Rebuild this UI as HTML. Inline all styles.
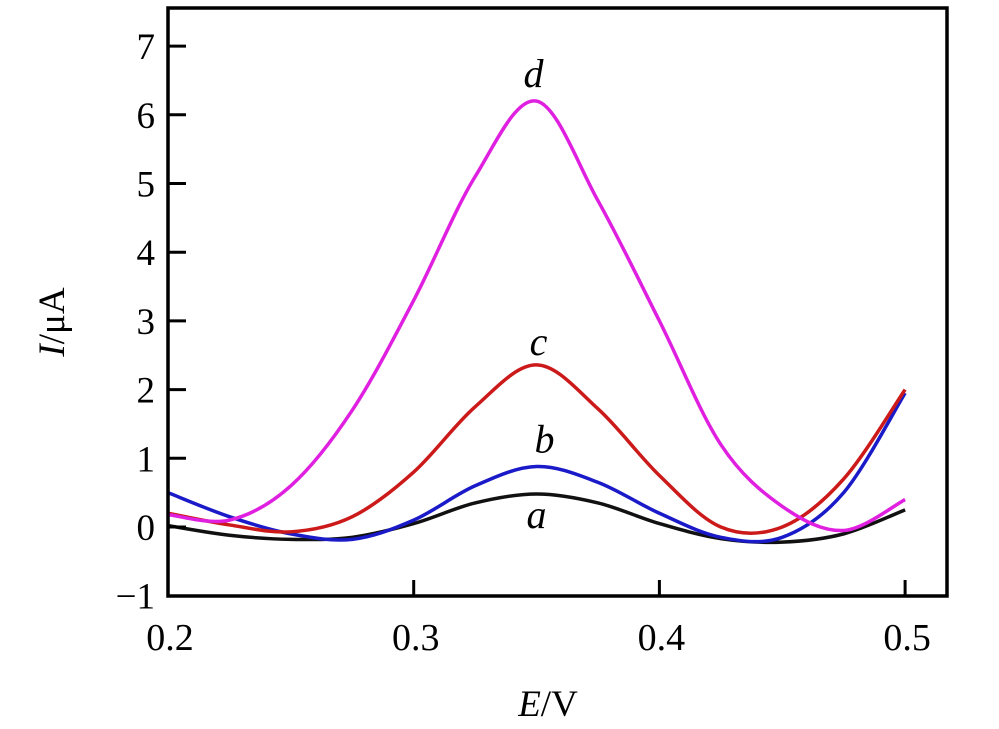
<!DOCTYPE html>
<html><head><meta charset="utf-8"><style>
html,body{margin:0;padding:0;background:#fff;}
svg text{font-family:"Liberation Serif",serif;fill:#000;}
</style></head><body>
<svg width="999" height="724" viewBox="0 0 999 724">
<g id="marks"></g>
<rect x="168" y="8" width="779" height="588" fill="none" stroke="#000" stroke-width="3.5"/>
<g id="axes"></g>
<text x="64" y="322" font-size="37" text-anchor="middle" transform="rotate(-90 64 322)"><tspan font-style="italic">I</tspan>/μA</text>
<text x="548" y="716" font-size="37" text-anchor="middle"><tspan font-style="italic">E</tspan>/V</text>
</svg>
<script>
const xVals=[0.2,0.225,0.25,0.275,0.3,0.325,0.35,0.375,0.4,0.425,0.45,0.475,0.5];
const seriesA=[0.02,-0.12,-0.18,-0.15,0.05,0.35,0.48,0.35,0.05,-0.17,-0.22,-0.1,0.25];
const seriesB=[0.5,0.15,-0.1,-0.18,0.1,0.6,0.88,0.65,0.2,-0.15,-0.15,0.5,1.95];
const seriesC=[0.2,0.03,-0.07,0.15,0.8,1.75,2.36,1.72,0.75,0.0,0.0,0.7,2.0];
const seriesD=[0.18,0.1,0.6,1.7,3.3,5.1,6.2,4.75,3.0,1.2,0.3,-0.05,0.4];
const yTicks=[-1,0,1,2,3,4,5,6,7];
const xTicks=[0.2,0.3,0.4,0.5];
const xTickLabels=["0.2","0.3","0.4","0.5"];
const sx=v=>168+(v-0.2)*2457;
const sy=v=>527-v*68.7;
const NS="http://www.w3.org/2000/svg";
const marks=document.getElementById('marks'),axes=document.getElementById('axes');
function path(ys){
  const p=xVals.map((x,i)=>[sx(x),sy(ys[i])]);
  let d="M"+p[0][0]+","+p[0][1];
  for(let i=0;i<p.length-1;i++){
    const p0=p[Math.max(i-1,0)],p1=p[i],p2=p[i+1],p3=p[Math.min(i+2,p.length-1)];
    d+=" C"+(p1[0]+(p2[0]-p0[0])/6)+","+(p1[1]+(p2[1]-p0[1])/6)+" "+(p2[0]-(p3[0]-p1[0])/6)+","+(p2[1]-(p3[1]-p1[1])/6)+" "+p2[0]+","+p2[1];
  }
  return d;
}
const series=[[seriesA,"#111","curve-a"],[seriesB,"#1a1ac8","curve-b"],[seriesC,"#cc1a1a","curve-c"],[seriesD,"#e020e0","curve-d"]];
series.forEach(s=>{
  const el=document.createElementNS(NS,'path');
  el.setAttribute('d',path(s[0]));el.setAttribute('fill','none');el.setAttribute('stroke',s[1]);el.setAttribute('stroke-width','3.5');
  
  
  marks.appendChild(el);
});
const labels=[["a",seriesA,-34,0],["b",seriesB,14,8],["c",seriesC,10,2],["d",seriesD,14,-3]];
labels.forEach(l=>{
  const t=document.createElementNS(NS,'text');
  t.setAttribute('x',sx(0.35)+l[3]);t.setAttribute('y',sy(l[1][6])-l[2]);
  t.setAttribute('font-size','40');t.setAttribute('font-style','italic');t.setAttribute('text-anchor','middle');
  t.textContent=l[0];
  
  
  marks.appendChild(t);
});
yTicks.forEach(v=>{
  const y=sy(v);
  if(v>-1){const ln=document.createElementNS(NS,'line');
  ln.setAttribute('x1',168);ln.setAttribute('x2',186);ln.setAttribute('y1',y);ln.setAttribute('y2',y);ln.setAttribute('stroke','#000');ln.setAttribute('stroke-width','3');
  
  
  axes.appendChild(ln);}
  const t=document.createElementNS(NS,'text');
  t.setAttribute('x',155);t.setAttribute('y',y+13);t.setAttribute('font-size','37');t.setAttribute('text-anchor','end');
  t.textContent=v<0?"\u2212"+(-v):String(v);
  
  
  axes.appendChild(t);
});
xTicks.forEach((v,i)=>{
  const x=sx(v);
  if(i>0){const ln=document.createElementNS(NS,'line');
  ln.setAttribute('x1',x);ln.setAttribute('x2',x);ln.setAttribute('y1',596);ln.setAttribute('y2',580);ln.setAttribute('stroke','#000');ln.setAttribute('stroke-width','3');
  
  
  axes.appendChild(ln);}
  const t=document.createElementNS(NS,'text');
  t.setAttribute('x',x+2);t.setAttribute('y',650);t.setAttribute('font-size','38');t.setAttribute('text-anchor','middle');
  t.textContent=xTickLabels[i];
  
  
  axes.appendChild(t);
});
</script>
</body></html>
